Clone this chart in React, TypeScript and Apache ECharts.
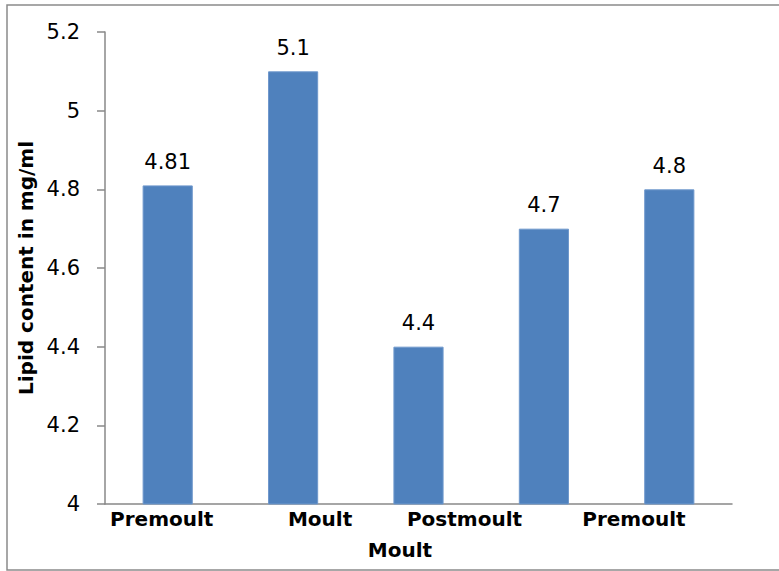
import React, { useEffect, useRef } from "react";
import * as echarts from "echarts";

const categories = ["Premoult", "Moult", "Postmoult", "Premoult", ""];
const values = [4.81, 5.1, 4.4, 4.7, 4.8];
const yTicks = { min: 4, max: 5.2, interval: 0.2 };
const yTitle = "Lipid content in mg/ml";
const xTitle = "Moult";
// horizontal shift (px) of each category label relative to its bar
const labelShift = [-6, 27, 46, 90, 0];

export default function App() {
  const ref = useRef<HTMLDivElement>(null);
  useEffect(() => {
    if (!ref.current) return;
    const chart = echarts.init(ref.current, undefined, { renderer: "svg" });
    const font = "DejaVu Sans";
    const rich: Record<string, any> = {};
    labelShift.forEach((s, i) => {
      rich["c" + i] = {
        fontFamily: font,
        fontSize: 20,
        fontWeight: "bold",
        color: "#000",
        padding: s >= 0 ? [0, 0, 0, 2 * s] : [0, -2 * s, 0, 0],
      };
    });
    chart.setOption({
      animation: false,
      backgroundColor: "#fff",
      graphic: [
        {
          type: "rect",
          shape: { x: 7, y: 5, width: 790, height: 565 },
          style: { fill: "none", stroke: "#8a8a8a", lineWidth: 1.5 },
          silent: true,
        },
      ],
      grid: { left: 105, right: 47, top: 32, bottom: 67 },
      xAxis: {
        type: "category",
        data: categories,
        axisLine: { lineStyle: { color: "#888", width: 1.5 } },
        axisTick: { show: false },
        axisLabel: {
          interval: 0,
          margin: 5,
          formatter: (v: string, i: number) => (v ? `{c${i}|${v}}` : ""),
          rich,
        },
        name: xTitle,
        nameLocation: "middle",
        nameGap: 36,
        nameTextStyle: {
          fontFamily: font,
          fontSize: 20,
          fontWeight: "bold",
          color: "#000",
          padding: [0, 37, 0, 0],
        },
      },
      yAxis: {
        type: "value",
        min: yTicks.min,
        max: yTicks.max,
        interval: yTicks.interval,
        splitLine: { show: false },
        axisLine: { show: true, lineStyle: { color: "#888", width: 1.5 } },
        axisTick: { show: true, length: 8, lineStyle: { color: "#888", width: 1.5 } },
        axisLabel: {
          margin: 25,
          fontFamily: font,
          fontSize: 21,
          color: "#000",
          formatter: (v: number) => String(parseFloat(v.toFixed(2))),
        },
        name: yTitle,
        nameLocation: "middle",
        nameGap: 68,
        nameRotate: 90,
        nameTextStyle: {
          fontFamily: font,
          fontSize: 20,
          fontWeight: "bold",
          color: "#000",
        },
      },
      series: [
        {
          type: "bar",
          data: values,
          barCategoryGap: "60%",
          itemStyle: { color: "#4F81BD", borderColor: "#6f98cc", borderWidth: 1 },
          label: {
            show: true,
            position: "top",
            distance: 13,
            fontFamily: font,
            fontSize: 21,
            color: "#000",
          },
        },
      ],
    });
    return () => chart.dispose();
  }, []);
  return (
    <div
      ref={ref}
      style={{ position: "absolute", left: 0, top: 0, width: 779, height: 571 }}
    />
  );
}
